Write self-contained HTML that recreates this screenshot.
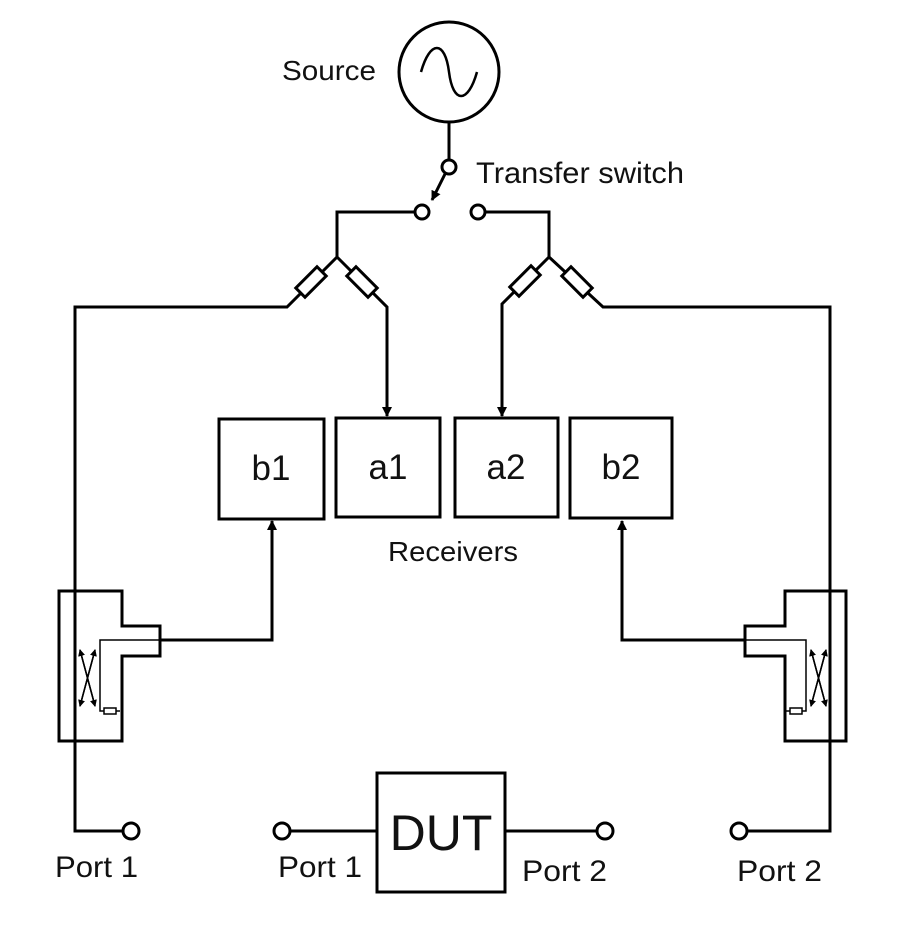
<!DOCTYPE html>
<html><head><meta charset="utf-8"><style>body{margin:0;background:#fff}svg{display:block}text{font-family:"Liberation Sans",sans-serif;fill:#111}</style></head><body>
<svg width="900" height="933" viewBox="0 0 900 933" xmlns="http://www.w3.org/2000/svg">
<defs><marker id="ah" markerWidth="10" markerHeight="10" refX="9" refY="5" orient="auto" markerUnits="userSpaceOnUse"><path d="M0,0 L10,5 L0,10z" fill="#000"/></marker>
<marker id="sa" markerWidth="7" markerHeight="7" refX="6" refY="3.5" orient="auto" markerUnits="userSpaceOnUse"><path d="M0,0 L7,3.5 L0,7z" fill="#000"/></marker>
<g id="res"><rect x="-15" y="-6.5" width="30" height="13" fill="#fff" stroke="#000" stroke-width="3"/></g></defs>
<g fill="none" stroke="#000" stroke-width="3">
<circle cx="449" cy="72" r="50"/>
<path d="M421,72 C430,40 445,40 449,72 C453,104 468,104 477,72" stroke-width="2.5"/>
<line x1="449" y1="122" x2="449" y2="160"/>
<circle cx="449" cy="167" r="7" fill="#fff"/>
<line x1="445" y1="174" x2="432" y2="200" marker-end="url(#ah)"/>
<circle cx="422" cy="212" r="7" fill="#fff"/>
<circle cx="478" cy="212" r="7" fill="#fff"/>
<polyline points="415,212 337,212 337,257 287,307 75,307 75,831 124,831"/>
<polyline points="337,257 387,307 387,416" marker-end="url(#ah)"/>
<polyline points="485,212 549,212 549,257 502,304 502,416" marker-end="url(#ah)"/>
<polyline points="549,257 603,307 830,307 830,831 746,831"/>
<circle cx="131" cy="831" r="8" fill="#fff"/>
<circle cx="739" cy="831" r="8" fill="#fff"/>
<circle cx="282" cy="831" r="8" fill="#fff"/>
<circle cx="605" cy="831" r="8" fill="#fff"/>
<line x1="290" y1="831" x2="377" y2="831"/>
<line x1="505" y1="831" x2="597" y2="831"/>
<rect x="377" y="773" width="128" height="119"/>
<rect x="219" y="419" width="105" height="100"/>
<rect x="336" y="418" width="104" height="99"/>
<rect x="455" y="418" width="103" height="99"/>
<rect x="570" y="418" width="102" height="100"/>
<polyline points="160,640 272,640 272,521" marker-end="url(#ah)"/>
<polyline points="745,640 622,640 622,521" marker-end="url(#ah)"/>
<polygon points="59,591 122,591 122,626 160,626 160,656 122,656 122,741 59,741"/>
<polygon points="846,591 785,591 785,626 745,626 745,656 785,656 785,741 846,741"/>
</g>
<g transform="translate(311,282) rotate(-45)"><use href="#res"/></g>
<g transform="translate(362,282) rotate(45)"><use href="#res"/></g>
<g transform="translate(525,281) rotate(-45)"><use href="#res"/></g>
<g transform="translate(577,282) rotate(45)"><use href="#res"/></g>
<g fill="none" stroke="#000" stroke-width="1.5">
<polyline points="160,640 100,640 100,711 104,711"/>
<rect x="104" y="708" width="12" height="6"/>
<line x1="116" y1="711" x2="120" y2="711"/>
<line x1="80" y1="706" x2="95" y2="650" marker-end="url(#sa)"/>
<line x1="95" y1="650" x2="80" y2="706" marker-end="url(#sa)"/>
<polyline points="745,640 806,640 806,711 802,711"/>
<rect x="790" y="708" width="12" height="6"/>
<line x1="790" y1="711" x2="786" y2="711"/>
<line x1="811" y1="650" x2="826" y2="706" marker-end="url(#sa)"/>
<line x1="826" y1="650" x2="811" y2="706" marker-end="url(#sa)"/>
<line x1="811" y1="706" x2="826" y2="650" marker-end="url(#sa)"/>
<line x1="826" y1="706" x2="811" y2="650" marker-end="url(#sa)"/>
<line x1="80" y1="650" x2="95" y2="706" marker-end="url(#sa)"/>
<line x1="95" y1="706" x2="80" y2="650" marker-end="url(#sa)"/>
</g>
<text x="282" y="80" font-size="28" textLength="94" lengthAdjust="spacingAndGlyphs">Source</text>
<text x="476" y="183" font-size="30" textLength="208" lengthAdjust="spacingAndGlyphs">Transfer switch</text>
<text x="271" y="480" font-size="35" text-anchor="middle">b1</text>
<text x="388" y="479" font-size="35" text-anchor="middle">a1</text>
<text x="506" y="479" font-size="35" text-anchor="middle">a2</text>
<text x="621" y="479" font-size="35" text-anchor="middle">b2</text>
<text x="388" y="561" font-size="28" textLength="130" lengthAdjust="spacingAndGlyphs">Receivers</text>
<text x="441" y="850" font-size="50" text-anchor="middle">DUT</text>
<text x="55" y="877" font-size="30" textLength="83" lengthAdjust="spacingAndGlyphs">Port 1</text>
<text x="278" y="877" font-size="30" textLength="84" lengthAdjust="spacingAndGlyphs">Port 1</text>
<text x="522" y="881" font-size="30" textLength="85" lengthAdjust="spacingAndGlyphs">Port 2</text>
<text x="737" y="881" font-size="30" textLength="85" lengthAdjust="spacingAndGlyphs">Port 2</text>
</svg>
</body></html>
